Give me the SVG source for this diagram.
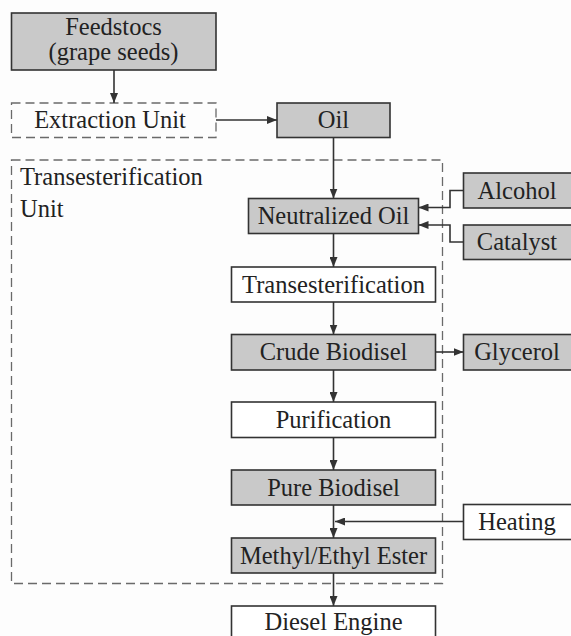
<svg xmlns="http://www.w3.org/2000/svg" width="571" height="636" viewBox="0 0 571 636">
<style>
.box{fill:#ffffff;stroke:#333333;stroke-width:1.6}
.gray{fill:#c9c9c9}
.dash{fill:none;stroke:#6a6a6a;stroke-width:1.3;stroke-dasharray:9 5}
text{font-family:"Liberation Serif","Times New Roman",serif;font-size:24.5px;fill:#222222}
.c{text-anchor:middle}
.conn{fill:none;stroke:#333333;stroke-width:1.6}
</style>
<defs>
<marker id="arr" viewBox="0 0 10 8" refX="10" refY="4" markerWidth="10" markerHeight="8" markerUnits="userSpaceOnUse" orient="auto">
<path d="M0,0 L10,4 L0,8 Z" fill="#333333"/>
</marker>
</defs>
<rect width="571" height="636" fill="#fdfdfd"/>
<g id="transesterification-unit">
<rect class="dash" x="11.5" y="160" width="431" height="423.5"/>
<text x="20" y="185">Transesterification</text>
<text x="20" y="217">Unit</text>
</g>
<g id="feedstocs">
<rect class="box gray" x="11.5" y="13" width="204.5" height="57"/>
<text class="c" x="113.5" y="35">Feedstocs</text>
<text class="c" x="113.5" y="60">(grape seeds)</text>
</g>
<g id="extraction">
<rect class="dash" x="11.5" y="103" width="204.5" height="34.5"/>
<text class="c" x="110" y="128">Extraction Unit</text>
</g>
<g id="oil">
<rect class="box gray" x="277" y="103" width="113" height="34.5"/>
<text class="c" x="333.5" y="128">Oil</text>
</g>
<g id="neutralized">
<rect class="box gray" x="248.5" y="198.5" width="170" height="35"/>
<text class="c" x="333.5" y="224">Neutralized Oil</text>
</g>
<g id="alcohol">
<rect class="box gray" x="463.5" y="173" width="112" height="35"/>
<text class="c" x="517" y="198.5">Alcohol</text>
</g>
<g id="catalyst">
<rect class="box gray" x="463.5" y="225" width="112" height="34.5"/>
<text class="c" x="517" y="250">Catalyst</text>
</g>
<g id="transesterification">
<rect class="box" x="231.5" y="267" width="204" height="35"/>
<text class="c" x="333.5" y="292.5">Transesterification</text>
</g>
<g id="crude">
<rect class="box gray" x="231.5" y="334.5" width="204" height="35.5"/>
<text class="c" x="333.5" y="360">Crude Biodisel</text>
</g>
<g id="glycerol">
<rect class="box gray" x="463.5" y="334.5" width="112" height="35.5"/>
<text class="c" x="517" y="360">Glycerol</text>
</g>
<g id="purification">
<rect class="box" x="231.5" y="402" width="204" height="35.5"/>
<text class="c" x="333.5" y="427.5">Purification</text>
</g>
<g id="pure">
<rect class="box gray" x="231.5" y="470" width="204" height="35"/>
<text class="c" x="333.5" y="495.5">Pure Biodisel</text>
</g>
<g id="heating">
<rect class="box" x="463.5" y="504.5" width="112" height="35"/>
<text class="c" x="517" y="530">Heating</text>
</g>
<g id="methyl">
<rect class="box gray" x="231.5" y="538" width="204" height="35"/>
<text class="c" x="333.5" y="563.5">Methyl/Ethyl Ester</text>
</g>
<g id="diesel">
<rect class="box" x="231.5" y="606" width="204" height="40"/>
<text class="c" x="333.5" y="629.5">Diesel Engine</text>
</g>
<g id="connectors">
<line class="conn" x1="114" y1="70" x2="114" y2="103" marker-end="url(#arr)"/>
<line class="conn" x1="216" y1="120" x2="277" y2="120" marker-end="url(#arr)"/>
<line class="conn" x1="333.5" y1="137.5" x2="333.5" y2="198.5" marker-end="url(#arr)"/>
<polyline class="conn" points="463.5,190.5 450,190.5 450,207.5 418.5,207.5" marker-end="url(#arr)"/>
<polyline class="conn" points="463.5,242 450,242 450,225 418.5,225" marker-end="url(#arr)"/>
<line class="conn" x1="333.5" y1="233.5" x2="333.5" y2="267" marker-end="url(#arr)"/>
<line class="conn" x1="333.5" y1="302" x2="333.5" y2="334.5" marker-end="url(#arr)"/>
<line class="conn" x1="435.5" y1="352" x2="463.5" y2="352" marker-end="url(#arr)"/>
<line class="conn" x1="333.5" y1="370" x2="333.5" y2="402" marker-end="url(#arr)"/>
<line class="conn" x1="333.5" y1="437.5" x2="333.5" y2="470" marker-end="url(#arr)"/>
<line class="conn" x1="333.5" y1="505" x2="333.5" y2="538" marker-end="url(#arr)"/>
<line class="conn" x1="463.5" y1="521.5" x2="335" y2="521.5" marker-end="url(#arr)"/>
<line class="conn" x1="333.5" y1="573" x2="333.5" y2="606" marker-end="url(#arr)"/>
</g>
</svg>
